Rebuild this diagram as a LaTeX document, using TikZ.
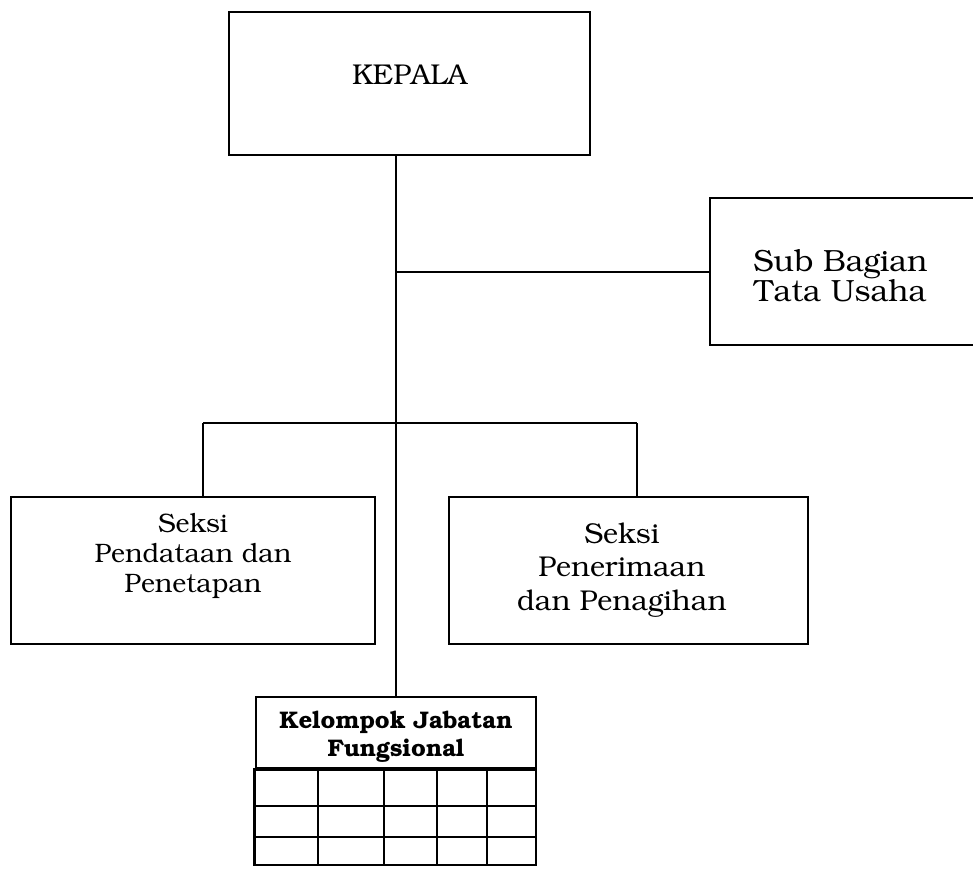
\documentclass[tikz,border=0pt]{standalone}
\usepackage[T1]{fontenc}
\usepackage{bookman}
\usetikzlibrary{fit}

\tikzset{
  kotak/.style={draw,line width=2pt,inner sep=0pt},
  teks/.style={align=center,inner sep=0pt},
  garis/.style={line width=1.5pt},
}

\begin{document}
\begin{tikzpicture}[x=0.75pt,y=-0.75pt]
    % batas gambar
    \useasboundingbox (0,0) rectangle (973,870);

    % kotak jabatan
    \node[kotak,fit={(229,12) (590,155)},
          label={[teks,font=\fontsize{21.5}{25}\selectfont,yshift=6.4pt]center:KEPALA}] (kepala) {};
    \node[kotak,fit={(710,198) (976,345)},
          label={[teks,font=\fontsize{23}{23}\selectfont,xshift=-2pt,yshift=-3.4pt]center:{Sub Bagian\\Tata Usaha}}] (subbag) {};
    \node[kotak,fit={(11,497) (375,644)},
          label={[teks,font=\fontsize{20}{22.5}\selectfont,yshift=10.5pt]center:{Seksi\\Pendataan dan\\Penetapan}}] (seksi1) {};
    \node[kotak,fit={(449,497) (808,644)},
          label={[teks,font=\fontsize{21.5}{25}\selectfont,xshift=-5pt]center:{Seksi\\Penerimaan\\dan Penagihan}}] (seksi2) {};
    \node[kotak,fit={(256,697) (536,768)},
          label={[teks,font=\bfseries\fontsize{18}{21}\selectfont,yshift=-3.4pt]center:{Kelompok Jabatan\\Fungsional}}] (jf) {};

    % garis komando
    \coordinate (cab1) at (203,423);
    \coordinate (cab2) at (637,423);
    \draw[garis] (jf.north) -- (jf.north |- kepala.south);
    \draw[garis] (jf.north |- subbag.west) -- (subbag.west);
    \draw[garis] (cab1) -- (cab2);
    \draw[garis] (cab1) -- (cab1 |- seksi1.north);
    \draw[garis] (cab2) -- (cab2 |- seksi2.north);

    % tabel fungsional
    \draw[line width=2pt] (jf.south west) rectangle (536,865);
    \foreach \y in {806,837}
        \draw[garis] (256,\y) -- (536,\y);
    \foreach \x in {318,384,437,487}
        \draw[garis] (\x,768) -- (\x,865);
\end{tikzpicture}
\end{document}
